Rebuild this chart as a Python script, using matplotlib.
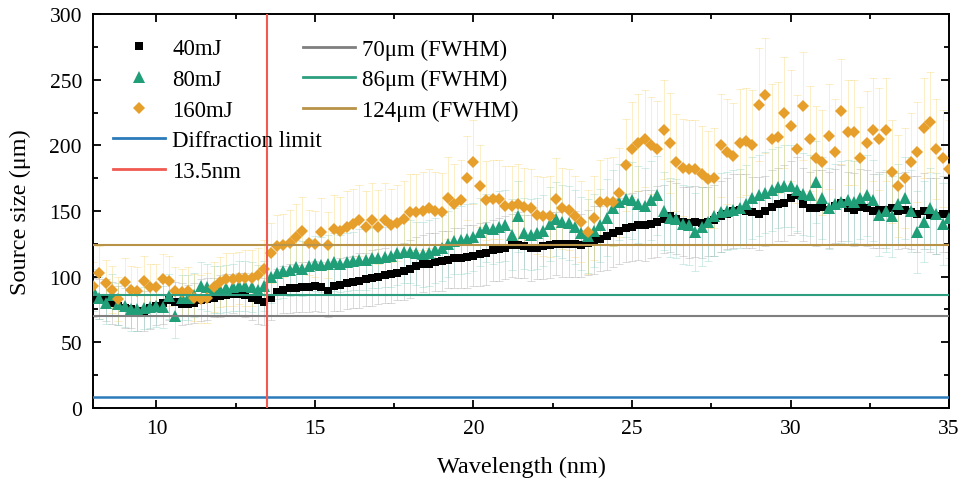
import numpy as np
import matplotlib
matplotlib.use("Agg")
import matplotlib.pyplot as plt
from matplotlib.lines import Line2D
from matplotlib.ticker import MultipleLocator

plt.rcParams['font.family'] = ['Liberation Serif', 'DejaVu Serif']

wavelength = np.round(np.arange(8.0, 35.001, 0.2), 1)

size_40 = [84, 83, 82, 80, 78,  76, 75, 74, 74, 76,  78, 80, 82, 81, 79,
           79, 80, 82, 83, 84,  85, 86, 87, 87, 86,  84, 82, 81, 84, 88,
           90, 91, 91, 92, 92,  93, 92, 89, 93, 94,  95, 96, 97, 98, 99,
           100, 101, 102, 103, 104,  106, 108, 110, 110, 111,  112, 113, 114, 114, 115,
           116, 117, 118, 120, 121,  122, 124, 124, 123, 122,  122, 123, 124, 125, 125,
           125, 125, 124, 126, 128,  129, 131, 133, 135, 137,  138, 139, 139, 140, 142,
           144, 146, 144, 142, 141,  142, 141, 142, 143, 146,  148, 150, 151, 150, 149,
           148, 150, 153, 155, 156,  160, 162, 155, 152, 152,  153, 151, 154, 156, 152,
           151, 153, 152, 150, 151,  151, 152, 150, 151, 149,  148, 150, 147, 146, 148,
           148]
err_40 = [15, 15, 16, 16, 15,  15, 14, 15, 15, 16,  15, 16, 15, 15, 16,
          15, 15, 16, 16, 15,  16, 16, 15, 16, 17,  17, 18, 18, 17, 18,
          18, 19, 18, 19, 19,  19, 19, 20, 19, 20,  20, 20, 21, 20, 21,
          21, 21, 22, 21, 22,  22, 22, 22, 23, 22,  23, 22, 23, 23, 24,
          23, 24, 24, 23, 24,  24, 24, 25, 24, 25,  24, 25, 25, 24, 25,
          25, 25, 24, 25, 26,  25, 26, 26, 25, 26,  26, 26, 27, 26, 27,
          26, 27, 27, 26, 27,  27, 27, 26, 27, 27,  27, 28, 27, 28, 27,
          28, 27, 28, 28, 29,  28, 29, 28, 28, 29,  28, 29, 28, 29, 28,
          28, 29, 29, 28, 29,  29, 28, 29, 29, 28,  29, 29, 28, 29, 29,
          29]

size_80 = [90, 84, 80, 86, 79,  78, 75, 75, 76, 77,  78, 77, 85, 70, 84,
           84, 86, 93, 92, 90,  90, 91, 92, 93, 93,  92, 90, 93, 100, 103,
           104, 105, 107, 106, 108,  110, 109, 110, 111, 110,  111, 112, 113, 113, 114,
           114, 115, 116, 118, 119,  119, 118, 117, 118, 120,  122, 125, 127, 128, 129,
           130, 134, 137, 136, 138,  139, 132, 146, 133, 132,  133, 135, 140, 144, 142,
           141, 138, 133, 131, 135,  139, 145, 152, 157, 159,  158, 155, 154, 158, 162,
           150, 145, 144, 140, 139,  134, 138, 142, 146, 149,  150, 151, 152, 155, 160,
           162, 164, 166, 168, 169,  169, 166, 163, 162, 172,  160, 152, 155, 157, 158,
           157, 160, 162, 158, 147,  150, 146, 155, 160, 150,  134, 142, 152, 148, 140,
           145]
err_80 = [16, 16, 16, 16, 16,  16, 16, 16, 16, 16,  16, 16, 17, 17, 17,
          17, 17, 18, 18, 18,  18, 18, 18, 19, 19,  19, 19, 19, 20, 20,
          20, 20, 21, 21, 21,  21, 21, 22, 22, 22,  22, 22, 23, 23, 23,
          23, 23, 24, 24, 24,  24, 24, 25, 25, 25,  25, 25, 25, 26, 26,
          26, 26, 26, 26, 27,  27, 27, 27, 27, 27,  27, 27, 28, 28, 28,
          28, 28, 28, 28, 28,  28, 29, 29, 29, 29,  29, 29, 29, 30, 30,
          30, 30, 30, 30, 30,  30, 30, 30, 30, 30,  30, 30, 30, 30, 31,
          31, 31, 31, 31, 31,  31, 31, 31, 31, 31,  31, 31, 31, 31, 31,
          31, 31, 31, 31, 31,  31, 31, 31, 31, 31,  31, 31, 31, 31, 31,
          31]

size_160 = [93, 103, 95, 90, 83,  96, 90, 89, 97, 92,  92, 98, 97, 89, 88,
            89, 84, 83, 84, 92,  96, 98, 98, 99, 99,  99, 101, 106, 118, 123,
            124, 126, 130, 135, 126,  125, 134, 124, 136, 135,  138, 140, 143, 138, 143,
            138, 143, 139, 141, 144,  149, 149, 150, 152, 150,  149, 160, 155, 158, 175,
            187, 169, 158, 159, 159,  154, 154, 155, 153, 152,  147, 146, 146, 159, 152,
            151, 146, 142, 134, 145,  157, 157, 157, 164, 185,  197, 202, 205, 200, 197,
            212, 202, 187, 183, 182,  182, 178, 174, 175, 200,  195, 192, 202, 203, 200,
            231, 238, 205, 206, 225,  215, 197, 230, 205, 190,  187, 207, 195, 226, 210,
            210, 190, 202, 212, 205,  212, 180, 169, 175, 187,  195, 213, 218, 197, 190,
            182]
err_160 = [18, 20, 18, 18, 17,  18, 18, 18, 19, 18,  18, 19, 19, 18, 18,
           18, 18, 18, 19, 19,  19, 20, 20, 20, 21,  21, 21, 22, 23, 24,
           24, 25, 25, 26, 25,  25, 26, 25, 26, 26,  27, 27, 27, 27, 28,
           28, 28, 28, 29, 29,  29, 29, 30, 30, 30,  30, 31, 31, 31, 32,
           32, 31, 30, 30, 30,  30, 30, 31, 30, 30,  30, 30, 31, 31, 31,
           31, 31, 31, 32, 32,  32, 33, 34, 34, 35,  36, 37, 37, 37, 37,
           38, 38, 37, 37, 37,  37, 37, 37, 38, 39,  40, 40, 41, 41, 42,
           43, 44, 42, 42, 42,  42, 41, 41, 40, 40,  40, 40, 40, 40, 40,
           40, 39, 39, 39, 39,  39, 39, 39, 38, 38,  38, 38, 38, 38, 37,
           37]

fwhm_values = [70, 86, 124]
fwhm_labels = ['70μm (FWHM)', '86μm (FWHM)', '124μm (FWHM)']
diffraction_limit = 8.5
euv_line = 13.5

c_black = '#000000'
c_green = '#1f9e78'
c_orange = '#e69f2a'
c_gray_line = '#7f7f7f'
c_green_line = '#2d9f80'
c_tan_line = '#b89247'
c_blue = '#2b7bba'
c_red = '#f05a50'

fig = plt.figure(figsize=(9.64, 4.81), dpi=100)
ax = fig.add_axes([0.0965, 0.1497, 0.888, 0.8191])

series = [
    (size_40, err_40, 's', c_black, '#9a9a9a', 6, '40mJ'),
    (size_80, err_80, '^', c_green, '#7fcfc0', 8, '80mJ'),
    (size_160, err_160, 'D', c_orange, '#f7cf5a', 6.5, '160mJ'),
]
for vals, errs, mk, col, ecol, ms, lab in series:
    ax.errorbar(wavelength, vals, yerr=errs, fmt='none', ecolor=ecol,
                elinewidth=0.7, capsize=3, capthick=0.7, alpha=0.35, zorder=1)
for vals, errs, mk, col, ecol, ms, lab in series:
    ax.plot(wavelength, vals, linestyle='none', marker=mk, color=col,
            markersize=ms, markeredgewidth=0, zorder=3)

for v, c in zip(fwhm_values, [c_gray_line, c_green_line, c_tan_line]):
    ax.axhline(v, color=c, linewidth=1.5, zorder=4)
ax.axhline(diffraction_limit, color=c_blue, linewidth=1.8, zorder=4)
ax.axvline(euv_line, color=c_red, linewidth=1.5, zorder=5)

ax.set_xlim(8, 35)
ax.set_ylim(0, 300)
ax.xaxis.set_major_locator(MultipleLocator(5))
ax.xaxis.set_minor_locator(MultipleLocator(2.5))
ax.yaxis.set_major_locator(MultipleLocator(50))
ax.yaxis.set_minor_locator(MultipleLocator(25))
ax.tick_params(which='both', direction='in', top=True, right=True, width=1.3,
               labelsize=15.5, pad=8)
ax.tick_params(which='major', length=6)
ax.tick_params(which='minor', length=3.5)
for s in ax.spines.values():
    s.set_linewidth(1.4)

ax.set_xlabel('Wavelength (nm)', fontsize=17.5, labelpad=13)
ax.set_ylabel('Source size (μm)', fontsize=17.5, labelpad=13)

h1 = [
    Line2D([], [], linestyle='none', marker='s', color=c_black, markersize=6, markeredgewidth=0),
    Line2D([], [], linestyle='none', marker='^', color=c_green, markersize=8, markeredgewidth=0),
    Line2D([], [], linestyle='none', marker='D', color=c_orange, markersize=6.5, markeredgewidth=0),
    Line2D([], [], color=c_blue, linewidth=2),
    Line2D([], [], color=c_red, linewidth=2),
]
l1 = ['40mJ', '80mJ', '160mJ', 'Diffraction limit', '13.5nm']
leg1 = fig.legend(h1, l1, loc='upper left', bbox_to_anchor=(0.117, 0.918),
                  frameon=False, fontsize=16.5, handlelength=2.3, handletextpad=0.3,
                  labelspacing=0.42, borderpad=0, borderaxespad=0)
h2 = [Line2D([], [], color=c, linewidth=2) for c in [c_gray_line, c_green_line, c_tan_line]]
leg2 = fig.legend(h2, fwhm_labels, loc='upper left', bbox_to_anchor=(0.314, 0.918),
                  frameon=False, fontsize=16.5, handlelength=2.3, handletextpad=0.3,
                  labelspacing=0.42, borderpad=0, borderaxespad=0)

fig.savefig('out.png', dpi=100)
